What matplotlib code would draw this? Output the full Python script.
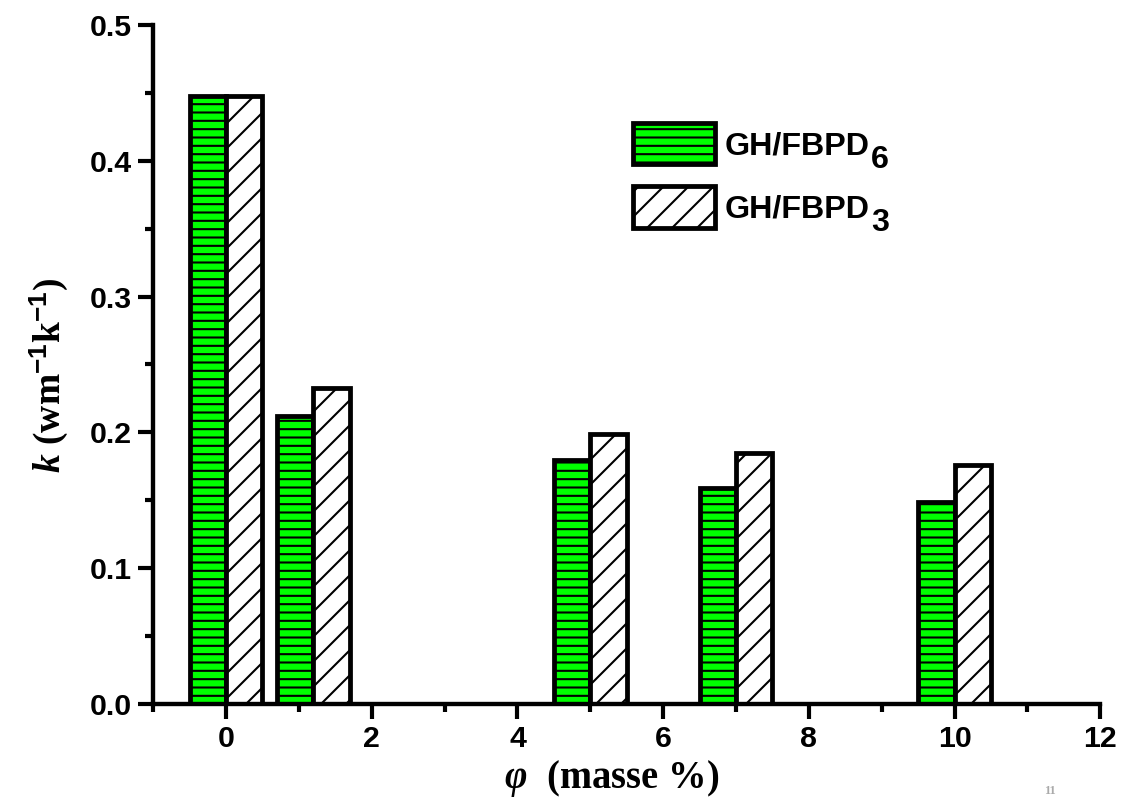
import matplotlib
matplotlib.use("Agg")
import matplotlib.pyplot as plt
from matplotlib.ticker import MultipleLocator

# Thermal conductivity vs. mass fraction
mass_pct = [0, 1.2, 5, 7, 10]
k_fbpd6 = [0.448, 0.212, 0.180, 0.159, 0.149]
k_fbpd3 = [0.448, 0.233, 0.199, 0.185, 0.176]
series_names = ["GH/FBPD", "GH/FBPD"]
series_subs = ["6", "3"]
x_ticks = [0, 2, 4, 6, 8, 10, 12]
y_ticks = [0.0, 0.1, 0.2, 0.3, 0.4, 0.5]

plt.rcParams["font.family"] = "Liberation Sans"
plt.rcParams["font.weight"] = "bold"
plt.rcParams["hatch.linewidth"] = 1.0
plt.rcParams["mathtext.fontset"] = "custom"
plt.rcParams["mathtext.rm"] = "Liberation Serif:bold"
plt.rcParams["mathtext.it"] = "Liberation Serif:italic:bold"
plt.rcParams["mathtext.bf"] = "Liberation Serif:bold"
plt.rcParams["mathtext.sf"] = "Liberation Sans:bold"
plt.rcParams["mathtext.cal"] = "Liberation Serif:italic"

fig = plt.figure(figsize=(7.54, 5.34), dpi=150)
ax = fig.add_axes([0.1354, 0.1211, 0.8375, 0.8477])

w = 0.5
ax.bar([x - w / 2 for x in mass_pct], k_fbpd6, width=w, color="#00ff00",
       edgecolor="black", linewidth=2.3, hatch="---", label=series_names[0])
ax.bar([x + w / 2 for x in mass_pct], k_fbpd3, width=w, color="white",
       edgecolor="black", linewidth=2.3, hatch="//", label=series_names[1])

ax.set_xlim(-1, 12)
ax.set_ylim(0, 0.5)
ax.set_xticks(x_ticks)
ax.set_yticks(y_ticks)
ax.set_yticklabels([f"{v:.1f}" for v in y_ticks])
ax.xaxis.set_minor_locator(MultipleLocator(1))
ax.yaxis.set_minor_locator(MultipleLocator(0.05))

for side in ["top", "right"]:
    ax.spines[side].set_visible(False)
for side in ["left", "bottom"]:
    ax.spines[side].set_linewidth(2.1)

ax.tick_params(which="major", direction="out", length=7, width=2.0,
               labelsize=14.5, pad=3)
ax.tick_params(which="minor", direction="out", length=4, width=2.0)

ax.set_xlabel(r"$\mathcal{\varphi}\ \ \mathrm{(masse\ \%)}$", fontsize=18.5)
ax.xaxis.set_label_coords(0.4836, -0.079)
ax.set_ylabel(r"$k\ \mathrm{(wm^{\mathsf{-1}}k^{\mathsf{-1}})}$", fontsize=18)
ax.yaxis.set_label_coords(-0.088, 0.484)

leg = ax.legend(loc="upper left", bbox_to_anchor=(633 / 1131, 1 - 123 / 801),
                bbox_transform=fig.transFigure, frameon=False, fontsize=15.5,
                borderpad=0, borderaxespad=0, handlelength=2.55,
                handleheight=1.6, handletextpad=0.3, labelspacing=0.68)

# big subscripts next to the legend labels
for txt, sub in zip(leg.get_texts(), series_subs):
    ax.annotate(sub, xy=(1, 0), xycoords=txt, xytext=(0.5, -3),
                textcoords="offset points", fontsize=15.5,
                fontweight="bold", va="baseline", ha="left", zorder=10)

# page number at the bottom edge
fig.text(1050 / 1131, 4 / 801, "11", fontsize=6, color="#aaaaaa",
         family="Liberation Serif", ha="center", va="bottom")

fig.savefig("out.png", dpi=150)
